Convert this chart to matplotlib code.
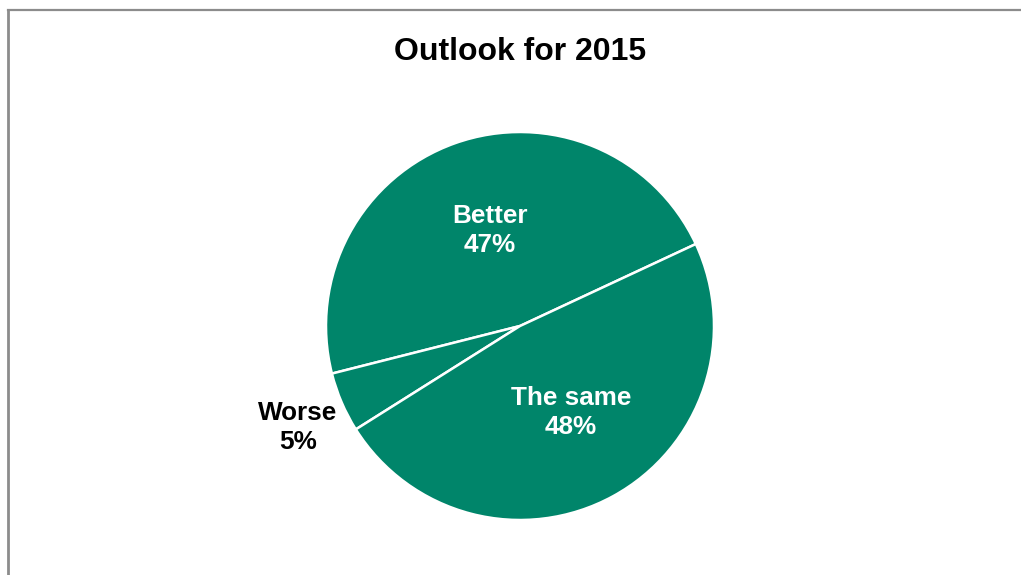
import numpy as np
import matplotlib.pyplot as plt
from matplotlib.lines import Line2D

CATEGORIES = ["Better", "Worse", "The same"]
SHARES = [47, 5, 48]

GREEN = "#00856a"
LABEL_COLORS = ["white", "black", "white"]
LABEL_DIST = [0.52, 1.3, 0.51]
LABEL_NUDGE = [(0.02, 0.0), (0.05, -0.01), (0.02, 0.0)]

plt.rcParams["font.family"] = ["Liberation Sans", "DejaVu Sans"]

fig = plt.figure(figsize=(10.21, 5.75), dpi=100)

# frame lines (top + left only, like the source)
fig.add_artist(Line2D([8 / 1021, 8 / 1021], [0, 1 - 10 / 575], color="#8c8c8c", lw=2))
fig.add_artist(Line2D([8 / 1021, 1], [1 - 10 / 575, 1 - 10 / 575], color="#8c8c8c", lw=1.6))

cx, cy, r = 520, 326, 194
ax = fig.add_axes([(cx - r) / 1021, (575 - cy - r) / 575, 2 * r / 1021, 2 * r / 575])

wedges, _ = ax.pie(
    SHARES,
    startangle=25,
    colors=[GREEN] * len(SHARES),
    wedgeprops=dict(edgecolor="white", linewidth=1.8),
)
ax.set_xlim(-1, 1)
ax.set_ylim(-1, 1)
ax.set_aspect("equal")

for w, name, val, col, d, (nx, ny) in zip(wedges, CATEGORIES, SHARES, LABEL_COLORS,
                                          LABEL_DIST, LABEL_NUDGE):
    ang = np.deg2rad((w.theta1 + w.theta2) / 2)
    ax.text(d * np.cos(ang) + nx, d * np.sin(ang) + ny, f"{name}\n{val}%",
            ha="center", va="center", color=col, fontsize=18.8,
            fontweight="bold", linespacing=1.26, clip_on=False)

fig.text(520 / 1021, 1 - 52 / 575, "Outlook for 2015", ha="center", va="center",
         fontsize=23, fontweight="bold")

plt.savefig("out.png", dpi=100)
